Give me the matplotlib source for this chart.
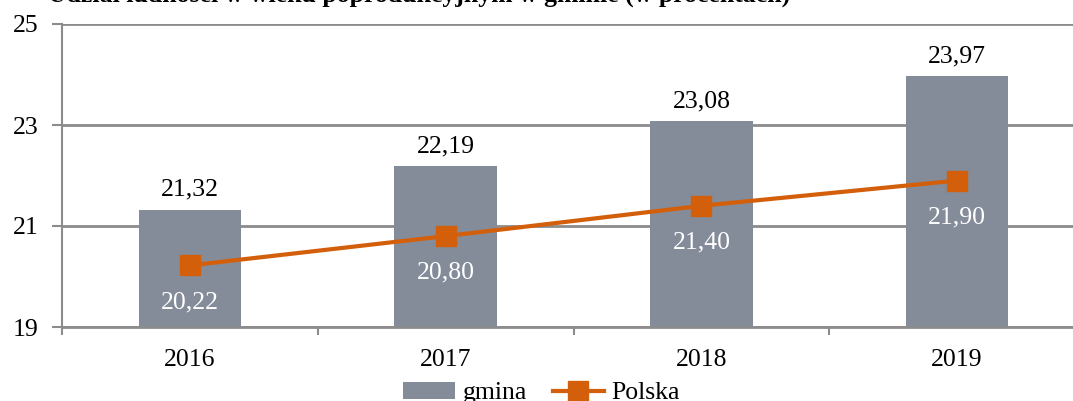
import matplotlib.pyplot as plt
from matplotlib.patches import Patch
from matplotlib.lines import Line2D

plt.rcParams['font.family'] = ['Liberation Serif', 'DejaVu Serif']

years = ["2016", "2017", "2018", "2019"]
gmina = [21.32, 22.19, 23.08, 23.97]
polska = [20.22, 20.80, 21.40, 21.90]

BAR_COLOR = "#848c9a"
LINE_COLOR = "#d35f0b"
GRID_COLOR = "#8c8c8c"
FS = 18.5


def fmt(v):
    return f"{v:.2f}".replace(".", ",")


fig = plt.figure(figsize=(10.73, 4.01), dpi=100)
ax = fig.add_axes([62 / 1073, 1 - 327 / 401, (1085 - 62) / 1073, 303 / 401])

x = list(range(len(years)))
bars = ax.bar(x, gmina, width=0.4, color=BAR_COLOR, zorder=2)
ax.plot(x, polska, color=LINE_COLOR, lw=3, marker="s", ms=14.5,
        mec=LINE_COLOR, zorder=3)

for xi, v in zip(x, gmina):
    ax.annotate(fmt(v), (xi, v), xytext=(0, 10), textcoords="offset points",
                ha="center", va="baseline", fontsize=FS, color="black")
for xi, v in zip(x, polska):
    ax.annotate(fmt(v), (xi, v), xytext=(0, -26.5), textcoords="offset points",
                ha="center", va="center", fontsize=FS, color="white", zorder=4)

ax.set_xlim(-0.5, 3.5)
ax.set_ylim(19, 25)
ax.set_yticks([19, 21, 23, 25])
ax.yaxis.grid(True, color=GRID_COLOR, lw=2, zorder=0)
ax.set_axisbelow(True)

# category boundaries as ticks, year labels in between
ax.set_xticks([-0.5, 0.5, 1.5, 2.5, 3.5])
ax.set_xticklabels([])
ax.set_xticks(x, minor=True)
ax.set_xticklabels(years, minor=True, fontsize=FS)
ax.tick_params(axis="x", which="major", direction="out", length=6,
               width=1.5, color=GRID_COLOR)
ax.tick_params(axis="x", which="minor", length=0, pad=16)
ax.tick_params(axis="y", direction="out", length=7, width=1.5,
               color=GRID_COLOR, labelsize=FS, pad=10)

for s in ["top", "right"]:
    ax.spines[s].set_visible(False)
ax.spines["left"].set_color(GRID_COLOR)
ax.spines["left"].set_linewidth(1.5)
ax.spines["bottom"].set_color(GRID_COLOR)
ax.spines["bottom"].set_linewidth(2)

# title sits mostly above the top edge
fig.text(790 / 1073, 1 - 2 / 401,
         "Udział ludności w wieku poprodukcyjnym w gminie (w procentach)",
         ha="right", va="baseline", fontsize=FS, fontweight="bold")

handles = [
    Patch(facecolor=BAR_COLOR, edgecolor="none"),
    Line2D([], [], color=LINE_COLOR, lw=3, marker="s", ms=14.5),
]
fig.legend(handles, ["gmina", "Polska"], loc="center",
           bbox_to_anchor=(0.505, 1 - 393 / 401), ncol=2, frameon=False,
           fontsize=FS, handlelength=2.0, handleheight=0.7,
           handletextpad=0.3, columnspacing=1.0, borderaxespad=0)

fig.savefig("out.png", dpi=100)
